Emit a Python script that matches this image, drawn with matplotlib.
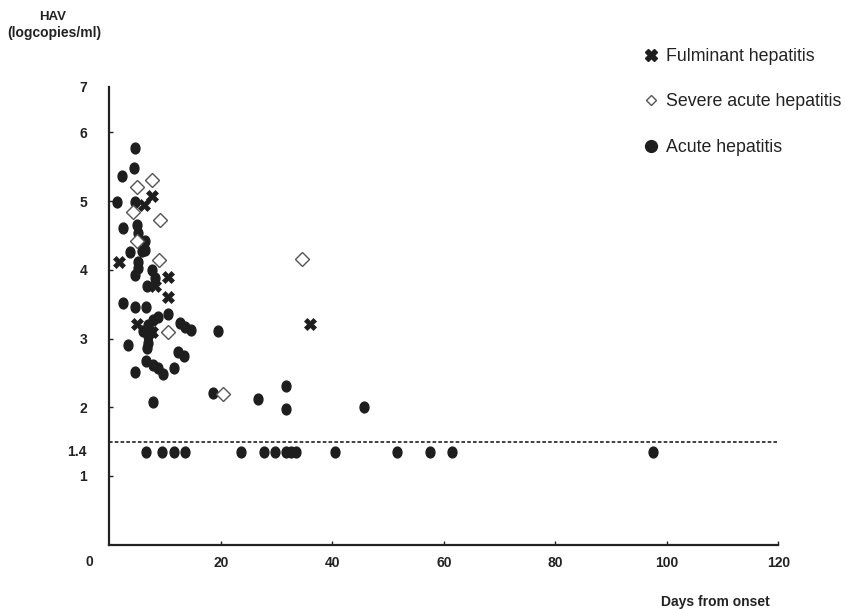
import matplotlib
matplotlib.use("Agg")
import matplotlib.pyplot as plt
from matplotlib.lines import Line2D
from matplotlib.path import Path
from matplotlib.transforms import Affine2D

# ---------------- data ----------------
acute_x = [4.61, 4.48, 2.33, 1.33, 4.61, 4.91, 2.51, 5.20, 6.40, 3.71, 5.81, 6.40,
           5.20, 5.20, 4.61, 7.61, 8.20, 6.71, 2.51, 4.61, 6.53, 10.58, 8.79, 7.89,
           7.00, 12.68, 13.58, 14.65, 7.00, 7.00, 3.41, 6.71, 12.38, 13.45, 6.53,
           7.89, 8.79, 9.69, 4.61, 11.66, 7.78, 19.55, 18.65, 26.73, 31.70, 31.70,
           45.74, 6.05, 7.48]
acute_y = [5.77, 5.48, 5.37, 4.99, 4.99, 4.65, 4.61, 4.53, 4.42, 4.26, 4.28, 4.29,
           4.12, 4.02, 3.93, 4.00, 3.88, 3.76, 3.51, 3.46, 3.46, 3.35, 3.32, 3.27,
           3.20, 3.22, 3.17, 3.13, 3.03, 2.93, 2.90, 2.86, 2.80, 2.74, 2.67,
           2.62, 2.57, 2.49, 2.52, 2.57, 2.08, 3.11, 2.21, 2.12, 2.31, 1.97,
           2.00, 3.11, 3.09]

# samples below detection limit
below_x = [6.67, 9.54, 11.61, 13.58, 23.62, 27.66, 29.72, 31.70, 32.59, 33.49,
           40.57, 51.52, 57.53, 61.56, 97.6]
below_y = [1.35] * 15

fulminant_x = [7.61, 6.28, 1.74, 10.58, 8.20, 10.48, 4.91, 7.61, 36.0]
fulminant_y = [5.07, 4.94, 4.12, 3.89, 3.76, 3.61, 3.21, 3.10, 3.21]

severe_x = [7.61, 4.91, 4.30, 9.09, 4.91, 8.83, 10.44, 34.51, 20.34]
severe_y = [5.31, 5.20, 4.84, 4.72, 4.42, 4.14, 3.09, 4.15, 2.19]

detection_limit = 1.49
x_ticks = [20, 40, 60, 80, 100, 120]
y_ticks = [1, 1.37, 2, 3, 4, 5, 6, 6.66]
y_ticklabels = ["1", "1.4", "2", "3", "4", "5", "6", "7"]
legend_labels = ["Fulminant hepatitis", "Severe acute hepatitis", "Acute hepatitis"]

# ---------------- figure ----------------
W, H = 846, 609
fig = plt.figure(figsize=(W / 100, H / 100), dpi=100)
ax = fig.add_axes([109.3 / W, 1 - 544.7 / H, (778.3 - 109.3) / W, (544.7 - 87) / H])

ink = "#1e1e1e"
ellipse = Path.unit_circle().transformed(Affine2D().scale(0.82, 1.0))

ax.plot(acute_x, acute_y, linestyle="none", marker=ellipse, ms=7.8,
        color=ink, mec=ink, zorder=3)
ax.plot(below_x, below_y, linestyle="none", marker=ellipse, ms=7.8,
        color=ink, mec=ink, zorder=3)
ax.plot(fulminant_x, fulminant_y, linestyle="none", marker="X", ms=8.5,
        color=ink, mec=ink, mew=0.5, zorder=4)
ax.plot(severe_x, severe_y, linestyle="none", marker="D", ms=6.8,
        mfc="white", mec="#555555", mew=1.0, zorder=5)

ax.plot([0, 120], [detection_limit, detection_limit], linestyle=(0, (2.0, 1.2)),
        color="#333333", lw=1.3, zorder=2)

ax.set_xlim(0, 120)
ax.set_ylim(0, 6.66)

for s in ["top", "right"]:
    ax.spines[s].set_visible(False)
for s in ["left", "bottom"]:
    ax.spines[s].set_linewidth(1.6)
    ax.spines[s].set_color("#222222")

tick_font = dict(family="Liberation Sans", weight="bold", size=10)
ax.set_xticks(x_ticks)
ax.set_xticklabels([str(t) for t in x_ticks], fontdict=tick_font, color="#222222")
ax.set_yticks(y_ticks)
ax.set_yticklabels(y_ticklabels, fontdict=tick_font, color="#222222")
ax.tick_params(axis="x", direction="in", length=3, width=1, pad=8, colors="#222222")
ax.tick_params(axis="y", direction="in", length=3, width=1, pad=16, colors="#222222")
ax.yaxis.get_major_ticks()[1].tick1line.set_visible(False)
ax.yaxis.get_major_ticks()[-1].tick1line.set_visible(False)

fig.text(89 / W, 1 - 562 / H, "0", ha="center", va="center", **tick_font, color="#222222")
fig.text(53 / W, 1 - 17 / H, "HAV", ha="center", va="center",
         family="Liberation Sans", weight="bold", size=9.5, color="#222222")
fig.text(54 / W, 1 - 33.5 / H, "(logcopies/ml)", ha="center", va="center",
         family="Liberation Sans", weight="bold", size=10, color="#222222")
fig.text(715 / W, 1 - 601.7 / H, "Days from onset", ha="center", va="center",
         family="Liberation Sans", weight="bold", size=10, color="#222222")

handles = [
    Line2D([], [], linestyle="none", marker="X", ms=8, color=ink),
    Line2D([], [], linestyle="none", marker="D", ms=5, mfc="white", mec="#555555", mew=1.0),
    Line2D([], [], linestyle="none", marker="o", ms=8.5, color=ink),
]
leg = fig.legend(handles, legend_labels, loc="upper left",
                 bbox_to_anchor=(642 / W, 1 - 48 / H), frameon=False,
                 prop=dict(family="Liberation Sans", size=12.8),
                 handlelength=1.0, handletextpad=0.35, labelspacing=1.6,
                 borderaxespad=0, borderpad=0)
for t in leg.get_texts():
    t.set_color("#222222")

fig.savefig("out.png", dpi=100)
